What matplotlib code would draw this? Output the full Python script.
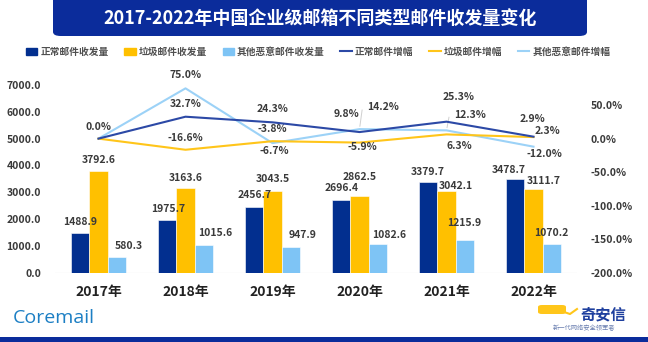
import matplotlib
matplotlib.use("Agg")
import matplotlib.pyplot as plt
import numpy as np
from matplotlib.patches import FancyBboxPatch, Rectangle, Patch
from matplotlib.lines import Line2D

plt.rcParams['font.family'] = ['Noto Sans CJK SC', 'DejaVu Sans']

# ---------------- data ----------------
years = ['2017年', '2018年', '2019年', '2020年', '2021年', '2022年']
normal_vol = [1488.9, 1975.7, 2456.7, 2696.4, 3379.7, 3478.7]
spam_vol = [3792.6, 3163.6, 3043.5, 2862.5, 3042.1, 3111.7]
other_vol = [580.3, 1015.6, 947.9, 1082.6, 1215.9, 1070.2]
normal_growth = [0.0, 32.7, 24.3, 9.8, 25.3, 2.9]
spam_growth = [0.0, -16.6, -3.8, -5.9, 6.3, 2.3]
other_growth = [0.0, 75.0, -6.7, 14.2, 12.3, -12.0]
left_ticks = [0, 1000, 2000, 3000, 4000, 5000, 6000, 7000]
right_ticks = [-200, -150, -100, -50, 0, 50]
series_names = ['正常邮件收发量', '垃圾邮件收发量', '其他恶意邮件收发量',
                '正常邮件增幅', '垃圾邮件增幅', '其他恶意邮件增幅']
title = '2017-2022年中国企业级邮箱不同类型邮件收发量变化'

# ---------------- style ----------------
W, H = 648, 342
c_dark = '#022F8F'
c_yel = '#FFC000'
c_light = '#7EC4F5'
c_line_dark = '#2C49A6'
c_line_yel = '#FFC51A'
c_line_light = '#9CD2F7'
c_band = '#0B2C9B'
txt = '#3A3A3A'

fig = plt.figure(figsize=(W / 100, H / 100), dpi=100)

def fx(px):
    return px / W

def fy(py):
    return 1 - py / H

ax = fig.add_axes([fx(55), fy(272.7), fx(577) - fx(55), fy(85) - fy(272.7)])
ax2 = ax.twinx()

x = np.arange(len(years))
bw = 0.208
ax.bar(x - bw, normal_vol, bw, color=c_dark, edgecolor='white', linewidth=0.4, zorder=2)
ax.bar(x, spam_vol, bw, color=c_yel, edgecolor='white', linewidth=0.4, zorder=2)
ax.bar(x + bw, other_vol, bw, color=c_light, edgecolor='white', linewidth=0.4, zorder=2)

ax.set_xlim(-0.5, len(years) - 0.5)
ax.set_ylim(0, 7000)
ax2.set_ylim(-200, 80)
ax.set_yticks(left_ticks)
ax.set_yticklabels([f'{v:.1f}' for v in left_ticks])
ax2.set_yticks(right_ticks)
ax2.set_yticklabels([f'{v:.1f}%' for v in right_ticks])
ax.set_xticks(x)
ax.set_xticklabels(years)

for a in (ax, ax2):
    for s in a.spines.values():
        s.set_visible(False)
    a.tick_params(length=0)
ax.tick_params(axis='y', labelsize=7.5, labelcolor=txt, pad=10)
ax2.tick_params(axis='y', labelsize=7.5, labelcolor=txt, pad=10)
ax.tick_params(axis='x', labelsize=10, labelcolor='#222222', pad=9)
for lab in ax.get_yticklabels() + ax2.get_yticklabels() + ax.get_xticklabels():
    lab.set_fontweight('bold')
ax.axhline(0, color='#D9D9D9', lw=0.8, zorder=1)

ax2.plot(x, other_growth, color=c_line_light, lw=1.5, zorder=3)
ax2.plot(x, spam_growth, color=c_line_yel, lw=1.5, zorder=3)
ax2.plot(x, normal_growth, color=c_line_dark, lw=1.5, zorder=4)

k = 0.72  # px -> pt
lab_kw = dict(textcoords='offset points', ha='center', va='center',
              fontsize=7.5, fontweight='bold', color=txt, annotation_clip=False)

# bar label offsets (px)
off_n = [(0, 11), (1, 11), (0, 12), (0, 12), (-1, 10), (-7, 9)]
off_s = [(0, 11), (0, 10), (0, 12), (0, 19), (9, 5), (10, 8)]
off_o = [(12, 11), (12, 12), (12, 12), (12, 9), (0, 17), (0, 11)]
for vals, offs, dx in ((normal_vol, off_n, -bw), (spam_vol, off_s, 0), (other_vol, off_o, bw)):
    for i, v in enumerate(vals):
        ax.annotate(f'{v:.1f}', (x[i] + dx, v), xytext=(offs[i][0] * k, offs[i][1] * k), **lab_kw)

# line label offsets (px)
loff_n = [(0, 12), (0, 13), (0, 13), (-13, 18), (12, 25), (-1, 18)]
loff_s = [None, (0, 12), (0, 12), (3, -4), (13, -12), (14, 6)]
loff_o = [None, (0, 13), (2, -8), (24, 22), (24, 15), (11, -7)]
for vals, offs in ((normal_growth, loff_n), (spam_growth, loff_s), (other_growth, loff_o)):
    for i, v in enumerate(vals):
        if offs[i] is None:
            continue
        ax2.annotate(f'{v:.1f}%', (x[i], v), xytext=(offs[i][0] * k, offs[i][1] * k), **lab_kw)

# leader lines
lead_kw = dict(arrowstyle='-', color='#CFCFCF', lw=0.7)
ax2.annotate('', (x[3], other_growth[3]), xytext=(3 * k, 22 * k),
             textcoords='offset points', arrowprops=lead_kw)
ax2.annotate('', (x[4], other_growth[4]), xytext=(3 * k, 16 * k),
             textcoords='offset points', arrowprops=lead_kw)

# legend
handles = [Patch(color=c_dark), Patch(color=c_yel), Patch(color=c_light),
           Line2D([], [], color=c_line_dark, lw=1.5),
           Line2D([], [], color=c_line_yel, lw=1.5),
           Line2D([], [], color=c_line_light, lw=1.5)]
leg = fig.legend(handles, series_names, loc='center', bbox_to_anchor=(fx(318), fy(52)),
                 ncol=6, frameon=False, fontsize=7, handlelength=1.2, handleheight=0.8,
                 handletextpad=0.3, columnspacing=1.6)
for t in leg.get_texts():
    t.set_color('#505050')
    t.set_fontweight('bold')

# title box
fig.patches.append(FancyBboxPatch((fx(53), fy(36)), fx(587) - fx(53), fy(-10) - fy(36),
                                  boxstyle='round,pad=0,rounding_size=0.012',
                                  transform=fig.transFigure, facecolor=c_band,
                                  edgecolor='none', zorder=0))
fig.text(fx(320), fy(18), title, ha='center', va='center', color='white',
         fontsize=13, fontweight='bold')

# bottom band
fig.patches.append(Rectangle((0, 0), 1, fy(337), transform=fig.transFigure,
                             facecolor=c_band, edgecolor='none'))

# logos
fig.text(fx(13), fy(318), 'Coremail', ha='left', va='center', fontsize=14,
         color='#1C7FC4', family=['Open Sans', 'DejaVu Sans'])
fig.patches.append(FancyBboxPatch((fx(538), fy(314)), fx(566) - fx(538), fy(305) - fy(314),
                                  boxstyle='round,pad=0,rounding_size=0.006',
                                  transform=fig.transFigure, facecolor='#FFC61A',
                                  edgecolor='none'))
fig.add_artist(Line2D([fx(564), fx(570), fx(577)], [fy(312), fy(314), fy(309)],
                      transform=fig.transFigure, color='#FFC61A', lw=1.5))
fig.text(fx(580), fy(314), '奇安信', ha='left', va='center', fontsize=11,
         fontweight='bold', color='#1E3F9E')
fig.text(fx(584), fy(328), '新一代网络安全领军者', ha='center', va='center', fontsize=4.5,
         color='#6A7FB0')

fig.savefig('out.png', dpi=100)
